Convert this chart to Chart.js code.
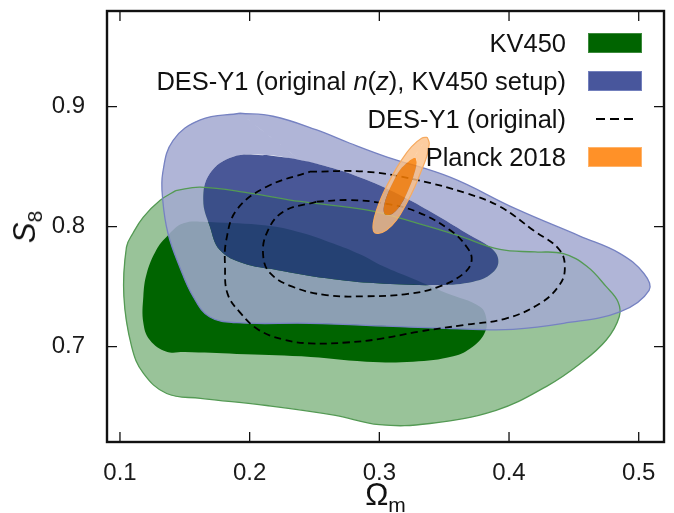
<!DOCTYPE html>
<html>
<head>
<meta charset="utf-8">
<script src="https://cdn.jsdelivr.net/npm/chart.js@4"></script>
<style>
  body { margin: 0; background: #fff; }
  #wrap { position: relative; width: 674px; height: 513px; font-family: "Liberation Sans", Arial, sans-serif; color: #111; }
  .leg { position: absolute; right: 108px; font-size: 25.5px; line-height: 30px; white-space: nowrap; }
  .sw { position: absolute; left: 588px; width: 54px; height: 20px; box-sizing: border-box; }
  .axt { position: absolute; font-size: 31px; line-height: 36px; white-space: nowrap; }
  .axt sub { font-size: 21px; line-height: 0; vertical-align: -7px; }
</style>
</head>
<body>
<div id="wrap">
  <canvas id="chart" width="674" height="513"></canvas>

  <div class="leg" style="top:28px">KV450</div>
  <div class="sw" style="top:33px;background:#006400;border:1px solid #3d8a3d"></div>
  <div class="leg" style="top:66px">DES-Y1 (original <i>n</i>(<i>z</i>), KV450 setup)</div>
  <div class="sw" style="top:71px;background:#48569c;border:1px solid #7380bd"></div>
  <div class="leg" style="top:104px">DES-Y1 (original)</div>
  <svg style="position:absolute;left:594px;top:114px" width="42" height="10"><line x1="2" y1="5" x2="40" y2="5" stroke="#000" stroke-width="2" stroke-dasharray="9 5"/></svg>
  <div class="leg" style="top:142px">Planck 2018</div>
  <div class="sw" style="top:147px;background:#ff9128;border:1px solid #ffb36a"></div>

  <div class="axt" style="left:107px;width:557px;text-align:center;top:477px">Ω<sub>m</sub></div>
  <div class="axt" style="left:25px;top:227px;transform:translate(-50%,-50%) rotate(-90deg)"><i>S</i><sub>8</sub></div>
</div>
<script>
// contours, [Omega_m, S8]
const kv450Outer = [[0.143,0.830],[0.162,0.833],[0.200,0.828],[0.239,0.821],[0.290,0.814],[0.329,0.803],[0.360,0.793],[0.393,0.781],[0.420,0.779],[0.442,0.7775],[0.460,0.767],[0.475,0.750],[0.484,0.7375],[0.485,0.725],[0.475,0.7056],[0.455,0.686],[0.429,0.667],[0.390,0.647],[0.339,0.636],[0.300,0.635],[0.265,0.643],[0.213,0.651],[0.162,0.657],[0.136,0.661],[0.118,0.678],[0.109,0.700],[0.103,0.742],[0.105,0.783],[0.110,0.7945],[0.118,0.808],[0.131,0.822]];
const kv450Inner = [[0.169,0.804],[0.213,0.801],[0.240,0.795],[0.2645,0.786],[0.285,0.777],[0.303,0.767],[0.325,0.757],[0.352,0.7445],[0.3776,0.7333],[0.3827,0.7222],[0.381,0.711],[0.372,0.700],[0.357,0.692],[0.326,0.6875],[0.290,0.6875],[0.240,0.692],[0.190,0.694],[0.150,0.6955],[0.136,0.6958],[0.123,0.7056],[0.118,0.720],[0.118,0.7417],[0.1206,0.761],[0.128,0.7806],[0.136,0.7917],[0.149,0.8028]];
const desKvOuter = [[0.1925,0.8945],[0.162,0.889],[0.141,0.872],[0.133,0.845],[0.133,0.822],[0.137,0.7945],[0.146,0.7667],[0.1565,0.7417],[0.169,0.725],[0.190,0.720],[0.2465,0.7195],[0.316,0.7167],[0.372,0.7145],[0.403,0.7145],[0.442,0.7195],[0.4855,0.729],[0.508,0.747],[0.504,0.761],[0.485,0.778],[0.455,0.792],[0.405,0.815],[0.355,0.841],[0.306,0.858],[0.2773,0.8695],[0.2517,0.8806],[0.218,0.892]];
const desKvInner = [[0.2131,0.8597],[0.1874,0.8583],[0.1694,0.8445],[0.1642,0.8222],[0.1694,0.800],[0.177,0.7806],[0.195,0.7695],[0.2208,0.764],[0.2594,0.757],[0.298,0.7528],[0.3467,0.7514],[0.3724,0.7542],[0.385,0.7597],[0.3917,0.7695],[0.3878,0.7806],[0.3673,0.7945],[0.3416,0.8112],[0.3159,0.8264],[0.290,0.839],[0.2645,0.8487],[0.2388,0.8556]];
const desOrigOuter = [[0.2465,0.8458],[0.290,0.8458],[0.3288,0.8389],[0.3673,0.8278],[0.393,0.8167],[0.4187,0.797],[0.439,0.7806],[0.443,0.764],[0.438,0.750],[0.4238,0.736],[0.398,0.7236],[0.3647,0.718],[0.330,0.7125],[0.3005,0.7065],[0.2746,0.7035],[0.2465,0.7028],[0.226,0.706],[0.207,0.714],[0.193,0.728],[0.183,0.744],[0.181,0.7667],[0.182,0.789],[0.190,0.814],[0.2131,0.8333]];
const desOrigInner = [[0.2517,0.8208],[0.2773,0.8222],[0.303,0.8195],[0.3288,0.8125],[0.3544,0.7972],[0.3673,0.7833],[0.3712,0.7722],[0.365,0.761],[0.346,0.750],[0.322,0.744],[0.289,0.742],[0.259,0.743],[0.233,0.750],[0.216,0.761],[0.2105,0.775],[0.2131,0.7945],[0.2259,0.8125]];
const planckOuter = [[0.3369,0.8745],[0.3385,0.8695],[0.3365,0.8583],[0.3326,0.8473],[0.3274,0.8333],[0.3210,0.8195],[0.3133,0.8056],[0.3056,0.7973],[0.2992,0.7945],[0.2958,0.7958],[0.2953,0.8028],[0.2979,0.8139],[0.3030,0.8278],[0.3095,0.8417],[0.3172,0.8556],[0.3249,0.8667],[0.3326,0.8737]];
const planckInner = [[0.3282,0.8570],[0.3288,0.8528],[0.3262,0.8417],[0.3223,0.8306],[0.3172,0.8195],[0.3107,0.8112],[0.3056,0.8098],[0.3038,0.8112],[0.3035,0.8167],[0.3061,0.8264],[0.3107,0.8375],[0.3159,0.8473],[0.3223,0.8542],[0.3262,0.8570]];

const xTicks = [0.1, 0.2, 0.3, 0.4, 0.5];
const yTicks = [0.7, 0.8, 0.9];

const pts = (a) => a.map(([x, y]) => ({ x, y }));
const ring = (a) => pts([...a, a[0]]);
// outer loop + reversed inner loop -> filled band with a hole (duplicates keep the cut straight)
function band(outer, inner) {
  const r = [...inner].reverse();
  return pts([...outer, outer[0], outer[0], r[0], r[0], ...r.slice(1), r[0]]);
}

const fillSet = (data, color) => ({ data, fill: "shape", backgroundColor: color, borderWidth: 0 });
const lineSet = (data, color, width, dash) => ({ data, fill: false, borderColor: color, borderWidth: width, borderDash: dash || [] });

// bottom to top
const layers = [
  fillSet(ring(kv450Outer), "rgb(153,195,153)"),
  fillSet(ring(kv450Inner), "rgb(0,100,0)"),
  fillSet(band(desKvOuter, desKvInner), "rgba(163,169,209,0.86)"),
  fillSet(ring(desKvInner), "rgba(43,59,134,0.86)"),
  lineSet(ring(kv450Outer), "rgb(84,154,84)", 1.3),
  lineSet(ring(desKvOuter), "rgb(118,130,194)", 1.3),
  lineSet(ring(desOrigOuter), "#000", 1.8, [7, 4.5]),
  lineSet(ring(desOrigInner), "#000", 1.8, [7, 4.5]),
  fillSet(band(planckOuter, planckInner), "rgba(251,192,136,0.8)"),
  fillSet(ring(planckInner), "rgba(249,126,2,0.85)"),
  lineSet(ring(planckOuter), "rgb(246,170,96)", 1.2),
];
layers.forEach((d, i) => { d.order = layers.length - i; d.showLine = true; d.tension = 0.4; d.pointRadius = 0; });

const frame = {
  id: "frame",
  afterDatasetsDraw(chart) {
    const { ctx, chartArea: a, scales: { x, y } } = chart;
    ctx.save();
    ctx.strokeStyle = "#111";
    ctx.lineWidth = 1.3;
    ctx.beginPath();
    xTicks.forEach((v) => {
      const px = x.getPixelForValue(v);
      ctx.moveTo(px, a.bottom); ctx.lineTo(px, a.bottom - 10);
      ctx.moveTo(px, a.top); ctx.lineTo(px, a.top + 10);
    });
    yTicks.forEach((v) => {
      const py = y.getPixelForValue(v);
      ctx.moveTo(a.left, py); ctx.lineTo(a.left + 10, py);
      ctx.moveTo(a.right, py); ctx.lineTo(a.right - 10, py);
    });
    ctx.stroke();
    ctx.lineWidth = 2.4;
    ctx.strokeRect(a.left, a.top, a.right - a.left, a.bottom - a.top);
    ctx.restore();
  },
};

const tickFont = { family: "Liberation Sans", size: 24 };

new Chart(document.getElementById("chart"), {
  type: "scatter",
  data: { datasets: layers },
  options: {
    responsive: false,
    animation: false,
    events: [],
    layout: { padding: { left: 0, right: 10, top: 11, bottom: 0 } },
    plugins: { legend: { display: false }, tooltip: { enabled: false } },
    scales: {
      x: {
        min: 0.09, max: 0.5195,
        afterFit: (s) => { s.height = 71; s.paddingLeft = 0; s.paddingRight = 0; },
        grid: { display: false }, border: { display: false },
        afterBuildTicks: (s) => { s.ticks = xTicks.map((v) => ({ value: v })); },
        ticks: { font: tickFont, color: "#1a1a1a", padding: 9, maxRotation: 0, autoSkip: false, callback: (v) => v.toFixed(1) },
      },
      y: {
        min: 0.6206, max: 0.9797,
        afterFit: (s) => { s.width = 107; s.paddingTop = 0; s.paddingBottom = 0; },
        grid: { display: false }, border: { display: false },
        afterBuildTicks: (s) => { s.ticks = yTicks.map((v) => ({ value: v })); },
        ticks: { font: tickFont, color: "#1a1a1a", padding: 14, callback: (v) => v.toFixed(1) },
      },
    },
  },
  plugins: [frame],
});
</script>
</body>
</html>
